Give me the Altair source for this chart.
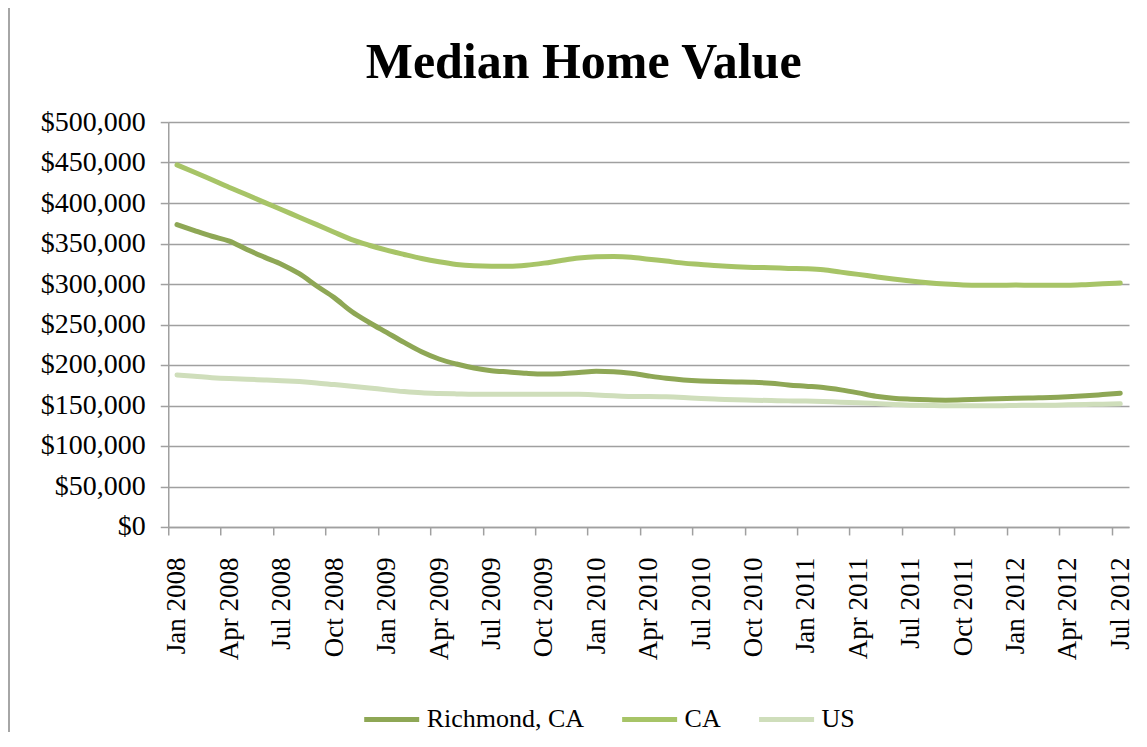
import json
import altair as alt
import pandas as pd

# ---- data (monthly Jan 2008 .. Jul 2012) ----
series_names = ["Richmond, CA", "CA", "US"]
series_colors = ["#8EA755", "#A7C467", "#CFDEBB"]

richmond = [373.3, 366.0, 359.0, 353.0, 342.6, 333.2, 324.2, 312.7, 297.5, 283.2,
            266.0, 252.5, 240.2, 227.9, 216.4, 207.4, 201.2, 196.3, 193.0, 191.4,
            189.8, 188.9, 189.3, 190.6, 192.2, 191.8, 189.8, 186.5, 183.6, 181.6,
            180.3, 179.5, 179.1, 178.7, 177.5, 175.4, 173.8, 172.2, 169.3, 165.6,
            161.5, 159.0, 157.8, 157.0, 156.6, 157.0, 157.8, 158.2, 159.0, 159.4,
            159.8, 160.7, 161.9, 163.5, 165.2]
ca = [447.1, 438.1, 428.7, 419.2, 410.2, 400.8, 391.8, 382.4, 373.3, 363.9,
      354.9, 347.9, 341.8, 336.5, 331.5, 327.4, 324.2, 322.5, 322.0, 322.1,
      323.3, 325.8, 329.1, 332.0, 333.6, 334.0, 333.2, 330.7, 328.3, 325.8,
      324.2, 322.5, 321.3, 320.5, 320.1, 319.3, 318.8, 317.6, 314.7, 311.9,
      309.0, 306.2, 303.7, 301.6, 300.0, 298.8, 298.4, 298.4, 298.8, 298.4,
      298.4, 298.4, 299.2, 300.4, 301.2]
us = [187.7, 186.1, 184.4, 183.2, 182.4, 181.6, 180.7, 179.5, 177.9, 175.8,
      173.8, 171.7, 169.3, 167.2, 165.6, 164.8, 164.3, 163.9, 163.9, 163.9,
      163.9, 163.9, 163.9, 163.9, 163.1, 161.9, 161.1, 161.1, 160.7, 159.8,
      158.6, 157.8, 157.0, 156.6, 156.1, 155.7, 155.5, 154.9, 154.1, 153.3,
      152.5, 151.2, 150.4, 150.0, 149.6, 149.6, 149.6, 149.6, 150.0, 150.4,
      150.4, 150.8, 151.2, 151.6, 152.0]

quarter_labels = ["Jan 2008", "Apr 2008", "Jul 2008", "Oct 2008",
                  "Jan 2009", "Apr 2009", "Jul 2009", "Oct 2009",
                  "Jan 2010", "Apr 2010", "Jul 2010", "Oct 2010",
                  "Jan 2011", "Apr 2011", "Jul 2011", "Oct 2011",
                  "Jan 2012", "Apr 2012", "Jul 2012"]
y_ticks = list(range(0, 500001, 50000))

n_months = len(richmond)
assert len(ca) == n_months and len(us) == n_months

rows = []
for name, vals in zip(series_names, [richmond, ca, us]):
    for i, v in enumerate(vals):
        rows.append({"month": i, "value": v * 1000, "series": name})
df = pd.DataFrame(rows)

W, H = 961, 405
PAD_L, PAD_T = 160.3, 114
slot = W / n_months
font = "Liberation Serif"
grey = "#A0A0A0"

label_expr = json.dumps(quarter_labels) + "[round(datum.value / 3)]"

lines = alt.Chart(df).mark_line(
    strokeWidth=5, interpolate="monotone", strokeCap="round", strokeJoin="round"
).encode(
    x=alt.X("month:Q",
            scale=alt.Scale(domain=[-0.5, n_months - 0.5], nice=False, zero=False),
            axis=alt.Axis(title=None, grid=False,
                          values=list(range(0, n_months, 3)),
                          labelExpr=label_expr,
                          labelAngle=270, labelAlign="right", labelBaseline="middle",
                          tickOffset=-slot / 2, labelOffset=slot / 2,
                          labelPadding=22, tickSize=8)),
    y=alt.Y("value:Q",
            scale=alt.Scale(domain=[0, 500000], nice=False),
            axis=alt.Axis(title=None, values=y_ticks, format="$,.0f",
                          grid=True, gridColor=grey, gridWidth=1.5,
                          tickSize=8, labelPadding=15, labelFontSize=28)),
    color=alt.Color("series:N",
                    scale=alt.Scale(domain=series_names, range=series_colors),
                    sort=series_names,
                    legend=alt.Legend(title=None, orient="none", direction="horizontal",
                                      legendX=193.5, legendY=567.5,
                                      symbolType="stroke", symbolSize=3025,
                                      symbolStrokeWidth=5, labelOffset=5,
                                      columnPadding=27, padding=0,
                                      labelFont=font, labelFontSize=26,
                                      labelColor="black")),
)

# chart-area border on the left edge, as in the reference
border = alt.Chart(pd.DataFrame({"b": [0]})).mark_rule(
    color="#A6A6A6", strokeWidth=2, clip=False
).encode(x=alt.value(1 - PAD_L), y=alt.value(-PAD_T), y2=alt.value(H + 210))

chart = alt.layer(border, lines).properties(
    width=W, height=H,
    autosize=alt.AutoSizeParams(type="none"),
    padding={"left": PAD_L, "top": PAD_T, "right": 10, "bottom": 205},
    title=alt.TitleParams(text="Median Home Value", font=font, fontSize=50,
                          fontWeight="bold", color="black", anchor="middle",
                          dx=-65, baseline="alphabetic", offset=-121),
).configure_view(stroke=None).configure_axis(
    domainColor=grey, domainWidth=1.5, tickColor=grey, tickWidth=1.5,
    labelFont=font, labelFontSize=27, labelColor="black"
)

chart.save("out.html", embed_options={"renderer": "svg", "actions": False})
